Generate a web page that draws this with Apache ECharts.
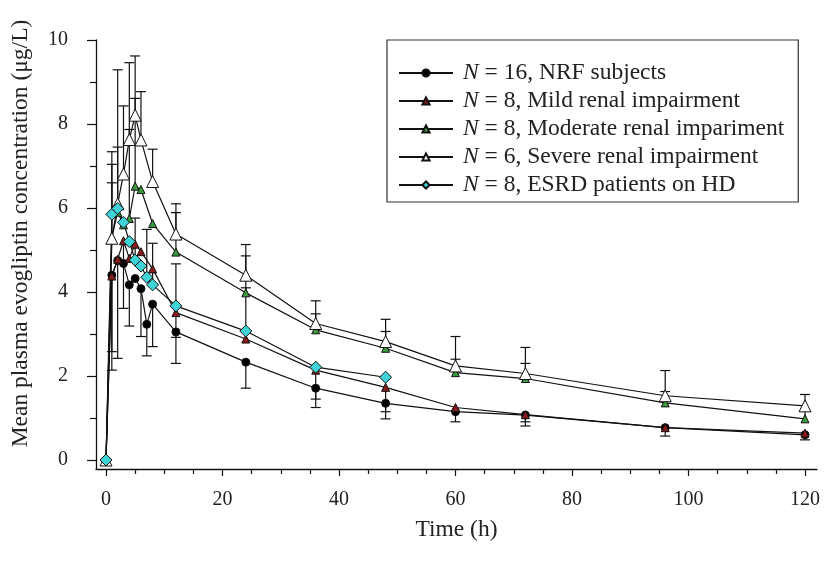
<!DOCTYPE html>
<html lang="en">
<head>
	<meta charset="utf-8">
	<title>evogliptin</title>
	<script type="text/javascript" src="https://cdn.jsdelivr.net/npm/echarts@6/dist/echarts.min.js"></script>
	<style type="text/css">
		html, body { margin: 0; padding: 0; background: #fff; }
		#chartmain { width: 827px; height: 561px; }
	</style>
</head>
<body>
	<div id="chartmain"></div>
	<script type="text/javascript">

		// sampling times (h)
		var times = [0, 1, 2, 3, 4, 5, 6, 7, 8, 12, 24, 36, 48, 60, 72, 96, 120];

		// mean concentrations (ug/L), null = no marker at that time
		var nrf      = [0, 4.40, 4.75, 4.68, 4.17, 4.32, 4.08, 3.23, 3.71, 3.05, 2.33, 1.71, 1.35, 1.15, 1.07, 0.77, 0.60];
		var mild     = [0, 4.38, 4.78, 5.22, 4.80, 5.14, 4.96, null, 4.55, 3.51, 2.88, 2.14, 1.73, 1.25, 1.08, 0.77, 0.64];
		var moderate = [0, 5.30, 5.90, 5.60, 5.75, 6.52, 6.44, null, 5.63, 4.95, 3.98, 3.10, 2.66, 2.08, 1.94, 1.36, 0.98];
		var severe   = [0, 5.28, 6.10, 6.81, 7.63, 8.21, 7.62, null, 6.63, 5.38, 4.40, 3.25, 2.82, 2.24, 2.06, 1.53, 1.29];
		var hd       = [0, 5.85, 5.99, 5.66, 5.20, 4.76, 4.62, 4.35, 4.17, 3.67, 3.07, 2.21, 1.97, null, null, null, null];

		// error bar tips (mean +/- SD), one-sided as in the figure
		var severeTop   = [null, 7.34, 9.29, 8.43, 9.46, 9.62, 8.77, null, 7.40, 6.10, 5.13, 3.79, 3.35, 2.94, 2.68, 2.13, 1.56];
		var moderateTop = [null, 7.04, 7.45, null, 7.87, 8.61, null, null, null, 5.89, 4.86, 3.48, 3.06, 2.40, 2.30, 1.63, 1.22];
		var hdTop       = [null, 6.60, null, null, null, 5.76, null, 5.49, 5.16, 4.67, 4.10, null, null, null, null, null, null];
		var nrfLow      = [null, 2.14, 2.42, null, 3.19, null, 2.94, 2.48, 2.70, 2.30, 1.71, 1.25, 0.98, 0.91, 0.81, 0.57, 0.48];
		var mildLow     = [null, 2.58, null, 3.61, null, null, null, null, null, 2.92, null, 1.45, 1.15, null, 0.91, null, null];

		var seriesNames = [
			'N = 16, NRF subjects',
			'N = 8, Mild renal impairment',
			'N = 8, Moderate renal impariment',
			'N = 6, Severe renal impairment',
			'N = 8, ESRD patients on HD'
		];

		var xMajor = [0, 20, 40, 60, 80, 100, 120];
		var xMinor = [5, 10, 15, 25, 30, 35, 45, 50, 55, 65, 70, 75, 85, 90, 95, 105, 110, 115];
		var yMajor = [0, 2, 4, 6, 8, 10];
		var yMinor = [1, 3, 5, 7, 9];

		var font = 'Liberation Serif';

		function pairs(vals) {
			var out = [];
			for (var i = 0; i < times.length; i++) {
				if (vals[i] != null) out.push([times[i], vals[i]]);
			}
			return out;
		}

		function bars(means, tips) {
			var out = [];
			for (var i = 0; i < times.length; i++) {
				if (means[i] != null && tips[i] != null) out.push([times[i], means[i], tips[i]]);
			}
			return out;
		}

		function errRender(params, api) {
			var a = api.coord([api.value(0), api.value(1)]);
			var b = api.coord([api.value(0), api.value(2)]);
			var st = { stroke: '#111', lineWidth: 1.2 };
			return {
				type: 'group',
				children: [
					{ type: 'line', shape: { x1: a[0], y1: a[1], x2: b[0], y2: b[1] }, style: st },
					{ type: 'line', shape: { x1: b[0] - 5, y1: b[1], x2: b[0] + 5, y2: b[1] }, style: st }
				]
			};
		}

		function errSeries(means, tips) {
			return {
				type: 'custom',
				renderItem: errRender,
				encode: { x: 0, y: [1, 2] },
				data: bars(means, tips),
				silent: true,
				z: 1
			};
		}

		function lineSeries(name, vals, symbol, size, color) {
			return {
				name: name,
				type: 'line',
				data: pairs(vals),
				symbol: symbol,
				symbolSize: size,
				connectNulls: true,
				lineStyle: { color: '#111', width: 1.2 },
				itemStyle: { color: color, borderColor: '#111', borderWidth: 1 },
				z: 3
			};
		}

		var myChart = echarts.init(document.getElementById('chartmain'));

		var option = {
			animation: false,
			grid: { left: 96, right: 10, top: 40, bottom: 92 },
			legend: {
				data: seriesNames,
				orient: 'vertical',
				left: 387,
				top: 40,
				padding: [19, 14, 3, 11],
				itemWidth: 54,
				itemHeight: 9,
				itemGap: 0,
				borderColor: '#333',
				borderWidth: 1.2,
				formatter: function (name) { return '{i|N}' + name.slice(1); },
				textStyle: {
					fontFamily: font, fontSize: 23.5, color: '#222', lineHeight: 28, padding: [0, 0, 0, 5],
					rich: { i: { fontFamily: font, fontSize: 23.5, fontStyle: 'italic', color: '#222', lineHeight: 28 } }
				}
			},
			xAxis: [{
				type: 'value',
				min: -1.72,
				max: 122.06,
				name: 'Time (h)',
				nameLocation: 'middle',
				nameGap: 49,
				nameTextStyle: { fontFamily: font, fontSize: 23.5, color: '#222' },
				splitLine: { show: false },
				axisLine: { show: true, onZero: false, lineStyle: { color: '#111', width: 1.3 } },
				axisTick: { show: true, inside: false, length: 7, customValues: xMajor, lineStyle: { color: '#111', width: 1.2 } },
				axisLabel: { customValues: xMajor, margin: 21, fontFamily: font, fontSize: 20, color: '#222' }
			}, {
				type: 'value',
				position: 'bottom',
				min: -1.72,
				max: 122.06,
				splitLine: { show: false },
				axisLine: { show: false, onZero: false },
				axisTick: { show: true, inside: false, length: 5, customValues: xMinor, lineStyle: { color: '#111', width: 1.2 } },
				axisLabel: { show: false }
			}],
			yAxis: [{
				type: 'value',
				min: -0.214,
				max: 10,
				name: 'Mean plasma evogliptin concentration (\u03bcg/L)',
				nameLocation: 'middle',
				nameGap: 63,
				nameTextStyle: { fontFamily: font, fontSize: 23.5, color: '#222', padding: [0, 0, 0, 42] },
				splitLine: { show: false },
				axisLine: { show: true, onZero: false, lineStyle: { color: '#111', width: 1.3 } },
				axisTick: { show: true, inside: false, length: 9, customValues: yMajor, lineStyle: { color: '#111', width: 1.2 } },
				axisLabel: { customValues: yMajor, margin: 28, fontFamily: font, fontSize: 20, color: '#222' }
			}, {
				type: 'value',
				position: 'left',
				min: -0.214,
				max: 10,
				splitLine: { show: false },
				axisLine: { show: false, onZero: false },
				axisTick: { show: true, inside: false, length: 6, customValues: yMinor, lineStyle: { color: '#111', width: 1.2 } },
				axisLabel: { show: false }
			}],
			series: [
				errSeries(severe, severeTop),
				errSeries(moderate, moderateTop),
				errSeries(hd, hdTop),
				errSeries(nrf, nrfLow),
				errSeries(mild, mildLow),
				lineSeries(seriesNames[0], nrf, 'circle', 8, '#000'),
				lineSeries(seriesNames[1], mild, 'triangle', 8, '#8b1a1a'),
				lineSeries(seriesNames[2], moderate, 'triangle', 8, '#3c9a3c'),
				lineSeries(seriesNames[3], severe, 'triangle', 12, '#ffffff'),
				lineSeries(seriesNames[4], hd, 'diamond', 12, '#3fd3d8')
			]
		};

		myChart.setOption(option);

	</script>
</body>
</html>
